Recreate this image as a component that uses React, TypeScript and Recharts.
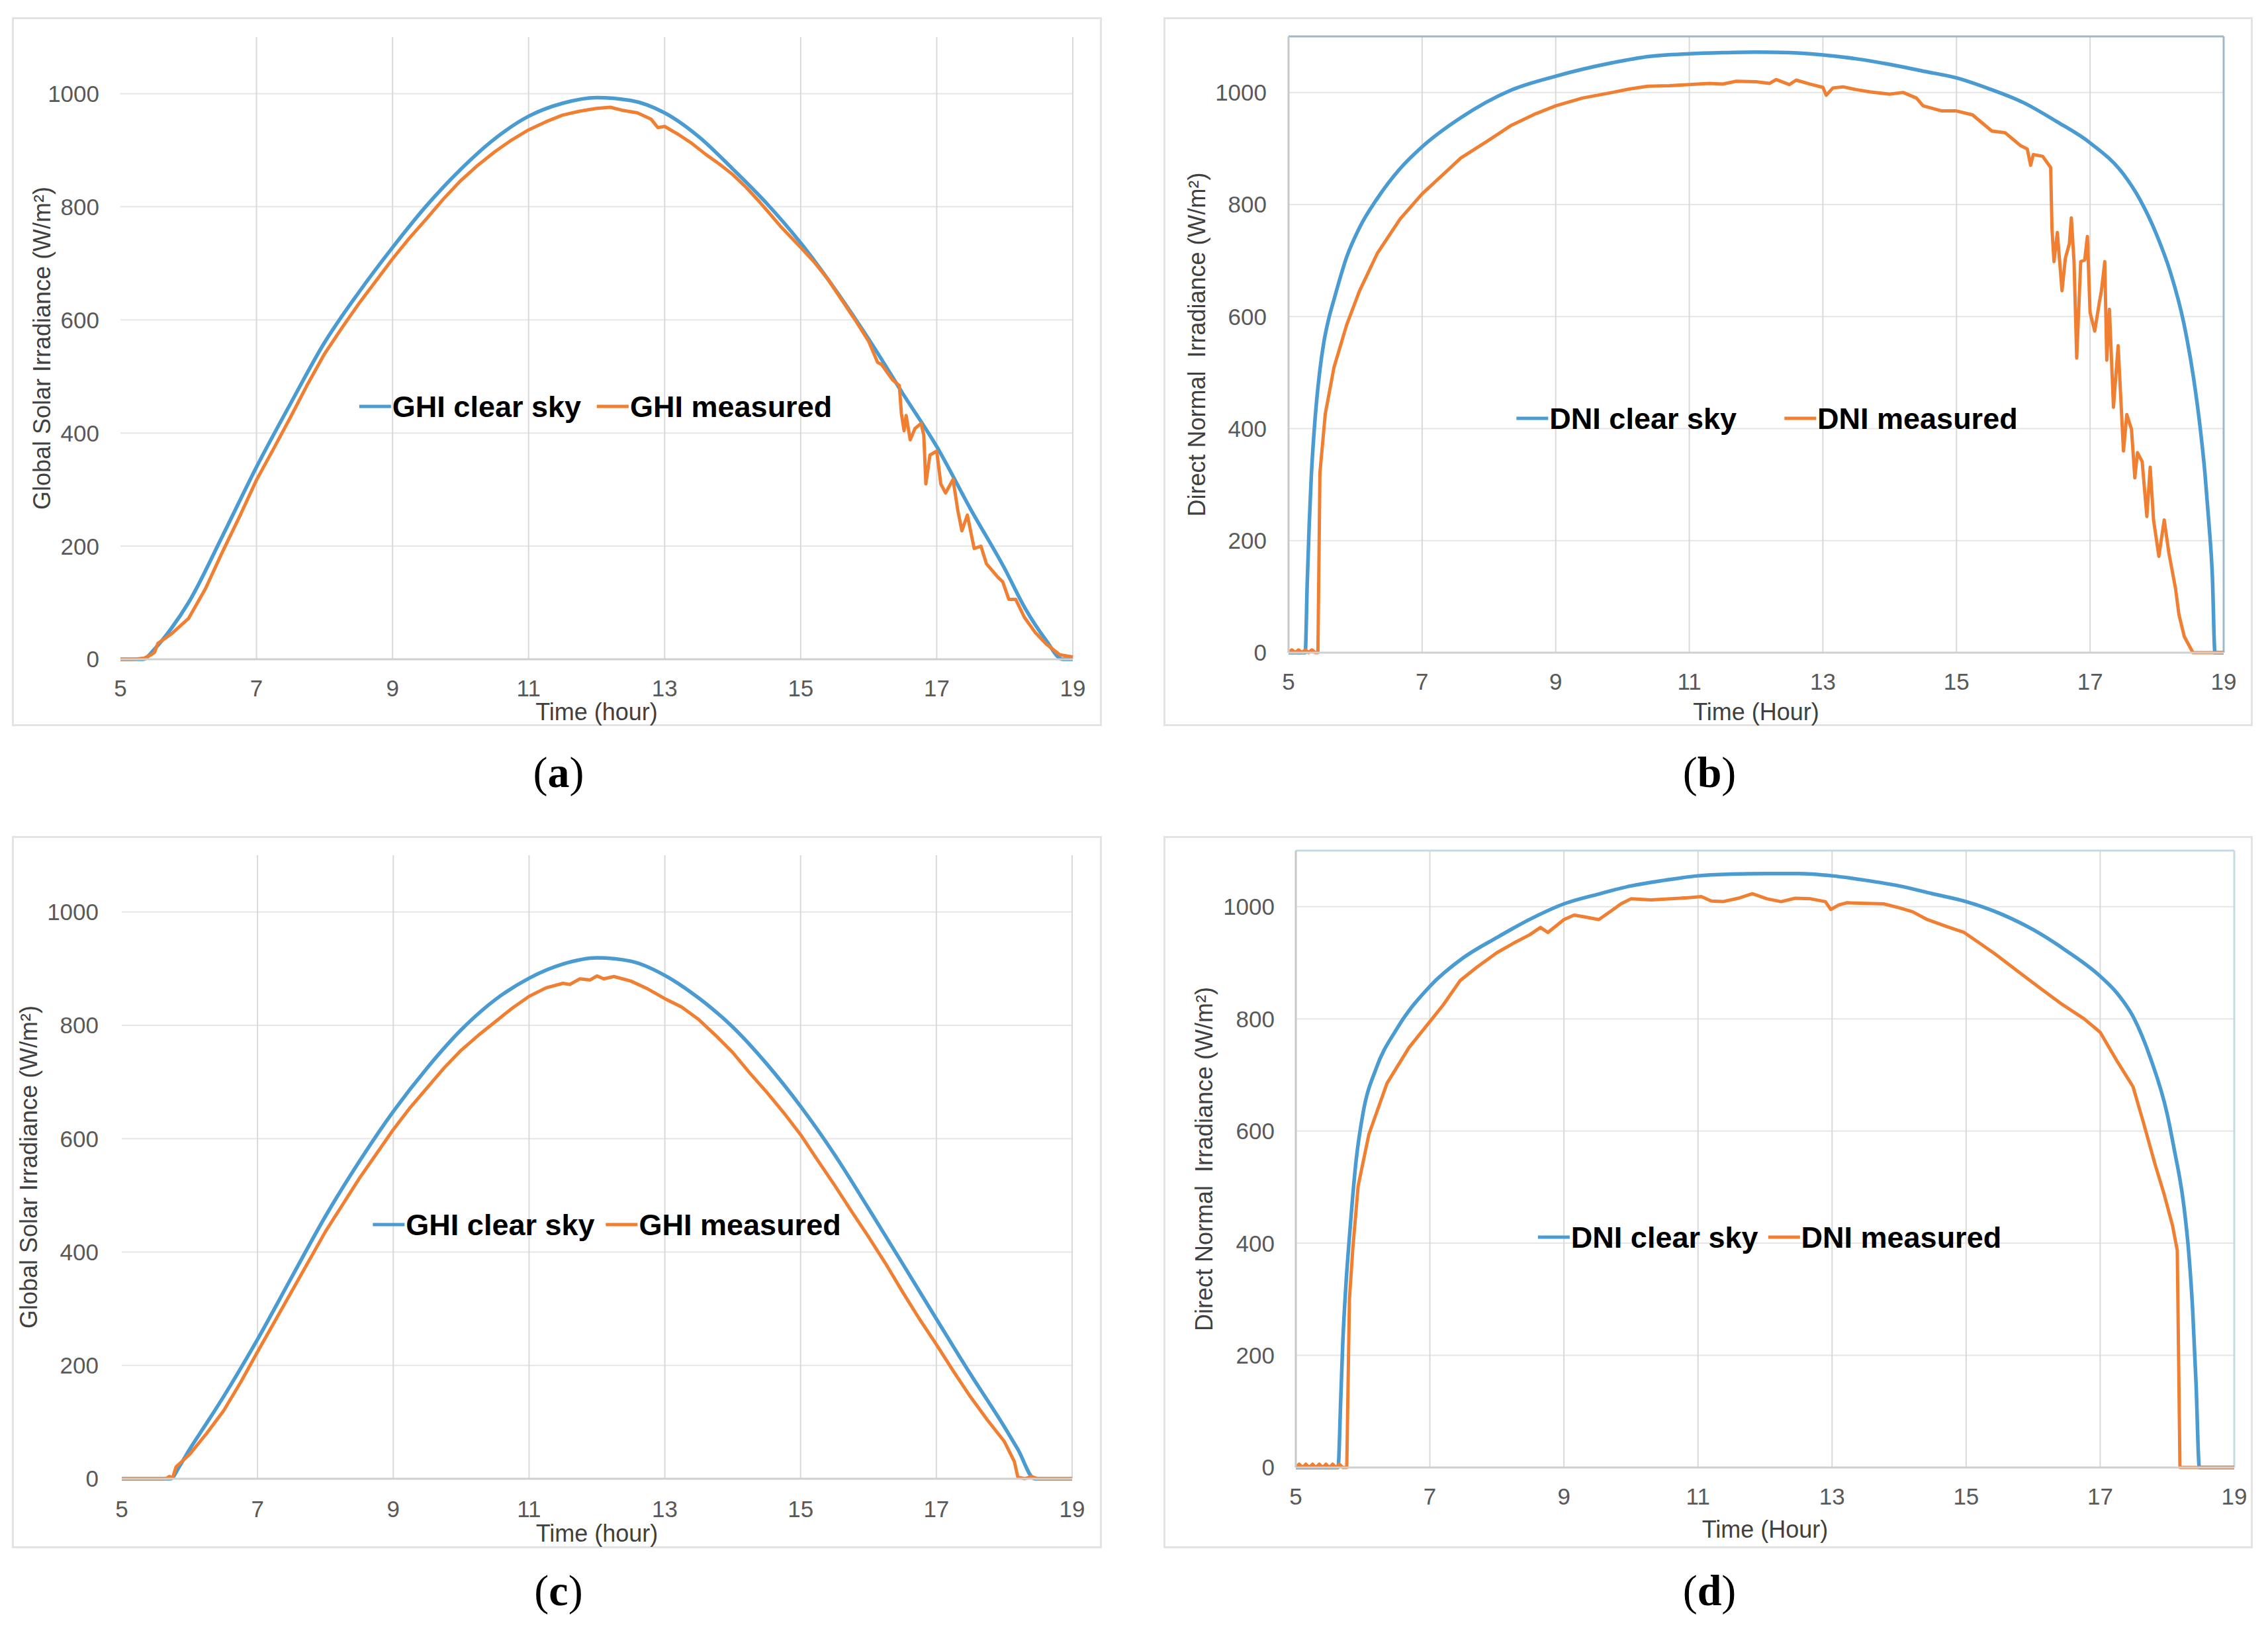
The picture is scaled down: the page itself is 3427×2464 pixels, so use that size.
import { CartesianGrid, Label, Line, LineChart, ReferenceLine, XAxis, YAxis } from "recharts"

// ---- data (hour, W/m²) ----

const hourTicks = [5, 7, 9, 11, 13, 15, 17, 19]
const irrTicks = [0, 200, 400, 600, 800, 1000]
const gridHours = [7, 9, 11, 13, 15, 17, 19]
const gridIrr = [200, 400, 600, 800, 1000]

// (a) GHI
const aClearT = [5, 5.33, 5.5, 5.75, 6, 6.5, 7, 7.5, 8, 8.5, 9, 9.5, 10, 10.5, 11, 11.5, 12, 12.5, 13, 13.5, 14, 14.5, 15, 15.5, 16, 16.5, 17, 17.5, 18, 18.3, 18.6, 18.85, 19]
const aClearV = [0, 0, 18, 55, 100, 218, 340, 452, 560, 648, 728, 802, 866, 920, 960, 983, 993, 988, 966, 924, 867, 806, 736, 655, 566, 470, 376, 265, 160, 90, 35, 0, 0]
const aMeasT = [5, 5.2, 5.35, 5.45, 5.5, 5.55, 5.75, 6, 6.25, 6.5, 6.75, 7, 7.25, 7.5, 7.75, 8, 8.25, 8.5, 8.75, 9, 9.25, 9.5, 9.75, 10, 10.25, 10.5, 10.75, 11, 11.25, 11.5, 11.75, 12, 12.2, 12.4, 12.6, 12.8, 12.9, 13, 13.2, 13.4, 13.6, 13.8, 14, 14.2, 14.4, 14.5, 14.7, 15, 15.2, 15.4, 15.6, 15.8, 16, 16.13, 16.19, 16.35, 16.45, 16.48, 16.52, 16.55, 16.61, 16.68, 16.77, 16.81, 16.84, 16.9, 17, 17.06, 17.13, 17.24, 17.31, 17.37, 17.45, 17.55, 17.65, 17.73, 17.9, 17.97, 18.06, 18.16, 18.29, 18.45, 18.61, 18.81, 19]
const aMeasV = [0, 0, 2, 8, 12, 28, 45, 72, 125, 190, 252, 317, 372, 428, 486, 540, 585, 628, 668, 708, 745, 779, 814, 846, 873, 897, 918, 936, 950, 962, 969, 974, 976, 970, 966, 955, 940, 942, 928, 912, 893, 876, 857, 834, 808, 794, 766, 728, 702, 672, 636, 600, 562, 525, 521, 494, 484, 435, 404, 431, 388, 408, 417, 396, 310, 361, 368, 310, 294, 318, 263, 227, 255, 196, 200, 169, 145, 137, 106, 106, 74, 47, 27, 8, 4]

// (b) DNI
const bClearT = [5, 5.25, 5.28, 5.31, 5.34, 5.38, 5.42, 5.47, 5.53, 5.6, 5.68, 5.78, 5.87, 6.06, 6.33, 6.67, 7, 7.58, 8.33, 9, 9.85, 10.38, 11, 11.5, 12, 12.5, 13, 13.5, 14, 14.5, 15, 15.5, 16, 16.5, 17, 17.5, 17.75, 18, 18.2, 18.4, 18.55, 18.65, 18.72, 18.78, 18.83, 18.87, 19]
const bClearV = [0, 0, 125, 230, 313, 390, 449, 505, 555, 595, 630, 672, 706, 758, 811, 864, 903, 955, 1004, 1029, 1053, 1064, 1069, 1071, 1072, 1071, 1067, 1060, 1050, 1038, 1026, 1006, 982, 948, 910, 854, 808, 745, 680, 590, 490, 400, 320, 230, 140, 0, 0]
const bMeasT = [5, 5.05, 5.1, 5.15, 5.2, 5.25, 5.3, 5.35, 5.4, 5.44, 5.47, 5.55, 5.68, 5.87, 6.06, 6.33, 6.67, 7, 7.3, 7.58, 8, 8.33, 8.7, 9, 9.4, 9.85, 10.1, 10.38, 10.7, 11, 11.3, 11.5, 11.7, 12, 12.2, 12.3, 12.5, 12.6, 12.8, 13, 13.05, 13.15, 13.3, 13.5, 13.7, 14, 14.2, 14.4, 14.5, 14.78, 15, 15.24, 15.53, 15.73, 15.96, 16.06, 16.11, 16.15, 16.29, 16.41, 16.43, 16.46, 16.51, 16.58, 16.63, 16.69, 16.72, 16.76, 16.8, 16.86, 16.92, 16.96, 17, 17.07, 17.14, 17.17, 17.22, 17.25, 17.29, 17.35, 17.42, 17.5, 17.55, 17.62, 17.67, 17.71, 17.78, 17.85, 17.9, 17.95, 18.03, 18.11, 18.18, 18.28, 18.33, 18.41, 18.54, 19]
const bMeasV = [0, 5, 0, 5, 0, 5, 0, 5, 0, 0, 321, 426, 509, 585, 645, 713, 774, 819, 852, 883, 915, 941, 962, 976, 990, 1000, 1006, 1011, 1012, 1014, 1016, 1015, 1020, 1019, 1016, 1023, 1014, 1022, 1015, 1009, 995, 1008, 1010, 1005, 1001, 997, 1000, 990, 976, 967, 967, 960, 931, 928, 905, 899, 870, 889, 886, 866, 756, 698, 750, 646, 704, 730, 776, 698, 526, 698, 701, 743, 607, 574, 626, 646, 698, 522, 613, 438, 548, 360, 425, 399, 312, 357, 341, 243, 331, 237, 172, 237, 178, 114, 68, 29, 0, 0]

// (c) GHI
const cClearT = [5, 5.72, 5.85, 6, 6.25, 6.5, 7, 7.5, 8, 8.5, 9, 9.5, 10, 10.5, 11, 11.5, 12, 12.5, 13, 13.5, 14, 14.5, 15, 15.5, 16, 16.5, 17, 17.5, 18, 18.2, 18.45, 19]
const cClearV = [0, 0, 22, 52, 98, 145, 246, 355, 463, 560, 648, 725, 792, 845, 883, 908, 919, 913, 888, 848, 797, 732, 657, 572, 477, 380, 282, 185, 92, 52, 0, 0]
const cMeasT = [5, 5.65, 5.7, 5.75, 5.8, 6, 6.25, 6.5, 6.75, 7, 7.5, 8, 8.5, 9, 9.25, 9.5, 9.75, 10, 10.25, 10.5, 10.75, 11, 11.25, 11.5, 11.6, 11.75, 11.9, 12, 12.1, 12.25, 12.5, 12.75, 13, 13.25, 13.5, 13.75, 14, 14.25, 14.5, 14.75, 15, 15.25, 15.5, 15.75, 16, 16.25, 16.5, 16.75, 17, 17.25, 17.5, 17.75, 18, 18.15, 18.2, 18.3, 18.4, 18.5, 19]
const cMeasV = [0, 0, 4, 2, 21, 43, 80, 120, 170, 224, 330, 436, 530, 616, 655, 690, 725, 756, 782, 806, 830, 851, 866, 874, 872, 882, 880, 887, 882, 886, 878, 864, 847, 832, 810, 782, 752, 716, 682, 646, 607, 562, 518, 472, 427, 380, 330, 282, 237, 190, 145, 104, 66, 30, 3, 0, 4, 0, 0]

// (d) DNI
const dClearT = [5, 5.63, 5.67, 5.7, 5.75, 5.8, 5.9, 6, 6.2, 6.5, 7, 7.5, 8, 8.5, 9, 9.5, 10, 10.5, 11, 11.5, 12, 12.5, 13, 13.5, 14, 14.5, 15, 15.5, 16, 16.5, 17, 17.25, 17.5, 17.75, 18, 18.1, 18.25, 18.32, 18.38, 18.43, 18.48, 19]
const dClearV = [0, 0, 120, 220, 330, 411, 548, 630, 712, 781, 858, 909, 945, 978, 1005, 1022, 1037, 1047, 1055, 1058, 1059, 1059, 1055, 1047, 1037, 1023, 1009, 988, 959, 921, 876, 846, 802, 730, 630, 570, 465, 385, 280, 150, 0, 0]
const dMeasT = [5, 5.05, 5.1, 5.15, 5.2, 5.25, 5.3, 5.35, 5.4, 5.45, 5.5, 5.55, 5.6, 5.65, 5.7, 5.76, 5.8, 5.85, 5.93, 6.09, 6.36, 6.69, 7, 7.2, 7.45, 7.7, 8, 8.25, 8.49, 8.65, 8.76, 9, 9.15, 9.3, 9.52, 9.7, 9.85, 10, 10.3, 10.6, 10.85, 11.05, 11.2, 11.37, 11.6, 11.81, 12.03, 12.24, 12.45, 12.68, 12.9, 12.98, 13.1, 13.22, 13.5, 13.77, 14, 14.2, 14.42, 14.7, 14.97, 15.2, 15.44, 15.77, 16.1, 16.43, 16.76, 17, 17.26, 17.49, 17.65, 17.82, 17.95, 18.08, 18.15, 18.19, 19]
const dMeasV = [0, 6, 0, 6, 0, 6, 0, 6, 0, 6, 0, 6, 0, 6, 0, 0, 300, 390, 502, 594, 685, 749, 795, 825, 868, 892, 918, 935, 950, 963, 954, 977, 985, 982, 977, 992, 1005, 1014, 1012, 1014, 1016, 1018, 1010, 1009, 1015, 1023, 1014, 1009, 1015, 1014, 1009, 995, 1003, 1007, 1006, 1005, 998, 991, 977, 965, 954, 935, 915, 885, 855, 826, 800, 776, 723, 679, 613, 540, 489, 431, 387, 0, 0]

// ---- styling ----

const BLUE = "#4a9bd1"
const ORANGE = "#f07f31"
const SANS = "'Liberation Sans', Arial, sans-serif"
const TICK = { fill: "#595959", fontSize: 35, fontFamily: SANS }

type Pt = { t: number; v: number }
const zip = (t: number[], v: number[]): Pt[] => t.map((x, i) => ({ t: x, v: v[i] }))

type Panel = {
  tag: string
  box: [number, number, number, number] // x, y, w, h on the page
  plot: [number, number, number, number] // left, top, right, bottom on the page
  yTitle: string
  yTitleX: number
  xTitle: string
  xTitleY: number
  yTickGap: number
  xTickY: number
  names: [string, string]
  legend: [number, number, number] // centre x, centre y, gap
  tagPos: [number, number]
  frame?: string
  clear: Pt[]
  meas: Pt[]
}

const panels: Panel[] = [
  {
    tag: "a",
    box: [18, 26, 1647, 1071],
    plot: [182, 56, 1621, 996],
    yTitle: "Global Solar Irradiance (W/m²)",
    yTitleX: 63,
    xTitle: "Time (hour)",
    xTitleY: 1075,
    yTickGap: 32,
    xTickY: 1039,
    names: ["GHI clear sky", "GHI measured"],
    legend: [900, 614, 24],
    tagPos: [844, 1167],
    clear: zip(aClearT, aClearV),
    meas: zip(aMeasT, aMeasV),
  },
  {
    tag: "b",
    box: [1758, 26, 1646, 1071],
    plot: [1947, 55, 3360, 986],
    yTitle: "Direct Normal  Irradiance (W/m²)",
    yTitleX: 1808,
    xTitle: "Time (Hour)",
    xTitleY: 1075,
    yTickGap: 33,
    xTickY: 1029,
    names: ["DNI clear sky", "DNI measured"],
    legend: [2670, 632, 72],
    tagPos: [2583, 1167],
    frame: "#9fb8c6",
    clear: zip(bClearT, bClearV),
    meas: zip(bMeasT, bMeasV),
  },
  {
    tag: "c",
    box: [18, 1263, 1647, 1076],
    plot: [184, 1292, 1620, 2234],
    yTitle: "Global Solar Irradiance (W/m²)",
    yTitleX: 43,
    xTitle: "Time (hour)",
    xTitleY: 2316,
    yTickGap: 35,
    xTickY: 2279,
    names: ["GHI clear sky", "GHI measured"],
    legend: [917, 1850, 17],
    tagPos: [844, 2403],
    clear: zip(cClearT, cClearV),
    meas: zip(cMeasT, cMeasV),
  },
  {
    tag: "d",
    box: [1758, 1263, 1646, 1076],
    plot: [1958, 1285, 3376, 2217],
    yTitle: "Direct Normal  Irradiance (W/m²)",
    yTitleX: 1819,
    xTitle: "Time (Hour)",
    xTitleY: 2310,
    yTickGap: 32,
    xTickY: 2260,
    names: ["DNI clear sky", "DNI measured"],
    legend: [2674, 1869, 15],
    tagPos: [2583, 2403],
    frame: "#c4dbe3",
    clear: zip(dClearT, dClearV),
    meas: zip(dMeasT, dMeasV),
  },
]

function ChartPanel({ p }: { p: Panel }) {
  const [bx, by, bw, bh] = p.box
  const [pl, pt, pr, pb] = p.plot
  const titleStyle = { fill: "#404040", fontSize: 36, fontFamily: SANS, whiteSpace: "pre" as const }

  return (
    <>
      <div
        style={{
          position: "absolute",
          left: bx,
          top: by,
          width: bw,
          height: bh,
          boxSizing: "border-box",
          border: "3px solid #e3e3e3",
        }}
      />
      <div style={{ position: "absolute", left: bx, top: by }}>
        <LineChart
          width={bw}
          height={bh}
          margin={{ top: pt - by, right: bx + bw - pr, bottom: 0, left: 0 }}
        >
          <CartesianGrid vertical={false} horizontalValues={gridIrr} stroke="#e6e6e6" strokeWidth={2} />
          <CartesianGrid
            horizontal={false}
            verticalValues={p.frame ? gridHours.slice(0, -1) : gridHours}
            stroke="#d9d9d9"
            strokeWidth={2}
          />
          <XAxis
            type="number"
            dataKey="t"
            domain={[5, 19]}
            ticks={hourTicks}
            height={by + bh - pb}
            tickLine={false}
            tickSize={0}
            tickMargin={p.xTickY - pb - 12}
            axisLine={{ stroke: "#d0d0d0", strokeWidth: 3 }}
            tick={TICK}
          >
            <Label
              content={({ viewBox }: any) => (
                <text
                  x={viewBox.x + viewBox.width / 2}
                  y={p.xTitleY - by}
                  textAnchor="middle"
                  dominantBaseline="central"
                  style={titleStyle}
                >
                  {p.xTitle}
                </text>
              )}
            />
          </XAxis>
          <YAxis
            type="number"
            domain={[0, 1100]}
            ticks={irrTicks}
            width={pl - bx}
            tickLine={false}
            tickSize={0}
            tickMargin={p.yTickGap}
            axisLine={p.frame ? { stroke: "#c8c8c8", strokeWidth: 3 } : false}
            tick={TICK}
          >
            <Label
              content={({ viewBox }: any) => {
                const cx = p.yTitleX - bx
                const cy = viewBox.y + viewBox.height / 2
                return (
                  <text
                    x={cx}
                    y={cy}
                    transform={`rotate(-90 ${cx} ${cy})`}
                    textAnchor="middle"
                    dominantBaseline="central"
                    style={titleStyle}
                  >
                    {p.yTitle}
                  </text>
                )
              }}
            />
          </YAxis>
          {p.frame && <ReferenceLine y={1100} stroke={p.frame} strokeWidth={3} />}
          {p.frame && <ReferenceLine x={19} stroke={p.frame} strokeWidth={3} />}
          <Line
            data={p.clear}
            dataKey="v"
            type="monotone"
            stroke={BLUE}
            strokeWidth={5.5}
            dot={false}
            isAnimationActive={false}
          />
          <Line
            data={p.meas}
            dataKey="v"
            type="linear"
            stroke={ORANGE}
            strokeWidth={5}
            strokeLinejoin="round"
            dot={false}
            isAnimationActive={false}
          />
        </LineChart>
      </div>
      <div
        style={{
          position: "absolute",
          left: p.legend[0],
          top: p.legend[1],
          transform: "translate(-50%, -50%)",
          display: "flex",
          alignItems: "center",
          gap: p.legend[2],
          whiteSpace: "nowrap",
          fontFamily: SANS,
          fontWeight: 700,
          fontSize: 45,
          lineHeight: 1,
          color: "#000",
        }}
      >
        {[BLUE, ORANGE].map((c, i) => (
          <span key={c} style={{ display: "flex", alignItems: "center" }}>
            <span style={{ display: "inline-block", width: 48, height: 5, background: c, marginRight: 2 }} />
            {p.names[i]}
          </span>
        ))}
      </div>
      <div
        style={{
          position: "absolute",
          left: p.tagPos[0],
          top: p.tagPos[1],
          transform: "translate(-50%, -50%)",
          fontFamily: "'Liberation Serif', 'DejaVu Serif', serif",
          fontSize: 66,
          lineHeight: 1,
          color: "#000",
        }}
      >
        (<b>{p.tag}</b>)
      </div>
    </>
  )
}

export default function App() {
  return (
    <div style={{ position: "absolute", left: 0, top: 0, width: 3427, height: 2464, background: "#fff" }}>
      {panels.map((p) => (
        <ChartPanel key={p.tag} p={p} />
      ))}
    </div>
  )
}
